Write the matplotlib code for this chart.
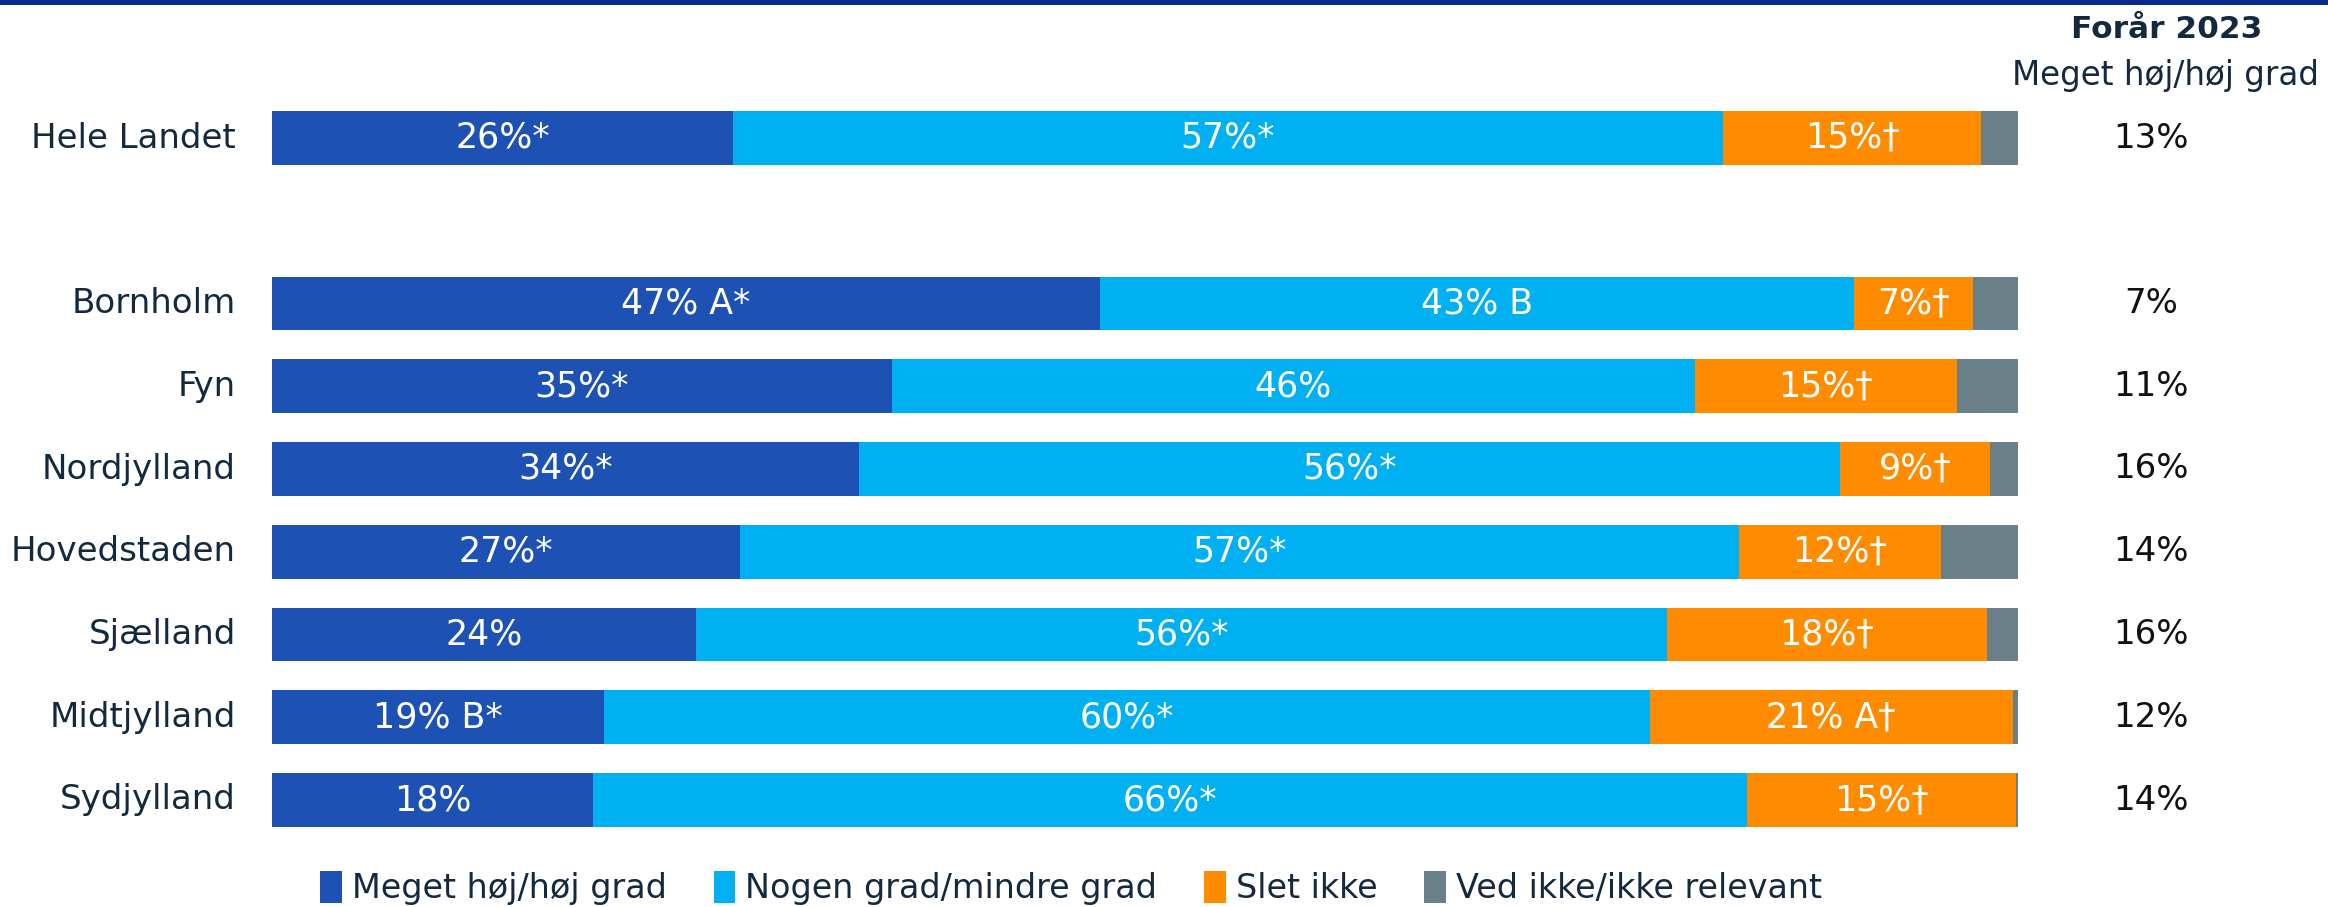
import matplotlib
matplotlib.use("Agg")
import matplotlib.pyplot as plt
from matplotlib.patches import Patch, Rectangle
import numpy as np

categories = ["Hele Landet", "Bornholm", "Fyn", "Nordjylland", "Hovedstaden",
              "Sjælland", "Midtjylland", "Sydjylland"]
series_names = ["Meget høj/høj grad", "Nogen grad/mindre grad", "Slet ikke",
                "Ved ikke/ikke relevant"]
meget_hoj = [26.4, 47.4, 35.5, 33.6, 26.8, 24.3, 19.0, 18.4]
nogen_grad = [56.7, 43.2, 46.0, 56.2, 57.2, 55.6, 59.9, 66.1]
slet_ikke = [14.8, 6.8, 15.0, 8.6, 11.6, 18.3, 20.8, 15.4]
ved_ikke = [2.1, 2.6, 3.5, 1.6, 4.4, 1.8, 0.3, 0.1]

labels_meget = ["26%*", "47% A*", "35%*", "34%*", "27%*", "24%", "19% B*", "18%"]
labels_nogen = ["57%*", "43% B", "46%", "56%*", "57%*", "56%*", "60%*", "66%*"]
labels_slet = ["15%†", "7%†", "15%†", "9%†", "12%†", "18%†", "21% A†", "15%†"]

prev_2023 = ["13%", "7%", "11%", "16%", "14%", "16%", "12%", "14%"]
prev_header = ["Forår 2023", "Meget høj/høj grad"]

colors = ["#1d52b4", "#00b0f0", "#ff8c00", "#6a8089"]
text_dark = "#14293d"

positions = [0, 2, 3, 4, 5, 6, 7, 8]

W, H = 2328, 907
fig = plt.figure(figsize=(W / 100, H / 100), dpi=100)
fig.patch.set_facecolor("white")

# top rule
fig.add_artist(Rectangle((0, 1 - 5 / H), 1, 5 / H, transform=fig.transFigure,
                         facecolor="#0b2a8a", edgecolor="none"))

left = 272 / W
right = 2018 / W
top_px = 96.6
bot_px = 841.4
ax = fig.add_axes([left, 1 - bot_px / H, right - left, (bot_px - top_px) / H])
ax.set_xlim(0, 100)
ax.set_ylim(8.5, -0.5)
ax.axis("off")

all_series = [meget_hoj, nogen_grad, slet_ikke, ved_ikke]
all_labels = [labels_meget, labels_nogen, labels_slet, None]
height = 0.65
lefts = np.zeros(len(categories))
for s, (vals, labs) in enumerate(zip(all_series, all_labels)):
    vals = np.array(vals)
    ax.barh(positions, vals, left=lefts, height=height, color=colors[s],
            edgecolor="none")
    if labs is not None:
        for i, (p, v, l) in enumerate(zip(positions, vals, lefts)):
            ax.text(l + v / 2, p, labs[i], ha="center", va="center",
                    color="white", fontsize=25)
    lefts = lefts + vals

for p, c in zip(positions, categories):
    fig.text(236 / W, 1 - (138 + 82.75 * p) / H, c, ha="right", va="center",
             color=text_dark, fontsize=24.5)

for p, t in zip(positions, prev_2023):
    fig.text(2151 / W, 1 - (138 + 82.75 * p) / H, t, ha="center", va="center",
             color="#111111", fontsize=24.5)

fig.text(2167 / W, 1 - 30 / H, prev_header[0], ha="center", va="center",
         color=text_dark, fontsize=22.5, fontweight="bold")
fig.text(2166 / W, 1 - 76 / H, prev_header[1], ha="center", va="center",
         color=text_dark, fontsize=23.5)

handles = [Patch(facecolor=c, edgecolor="none") for c in colors]
leg = fig.legend(handles, series_names, loc="center",
                 bbox_to_anchor=(1071 / W, 1 - 888 / H), ncol=4, frameon=False,
                 handlelength=0.65, handleheight=1.1, handletextpad=0.3,
                 columnspacing=1.4, prop={"size": 24})
for t in leg.get_texts():
    t.set_color(text_dark)

fig.savefig("out.png", dpi=100, facecolor="white")
